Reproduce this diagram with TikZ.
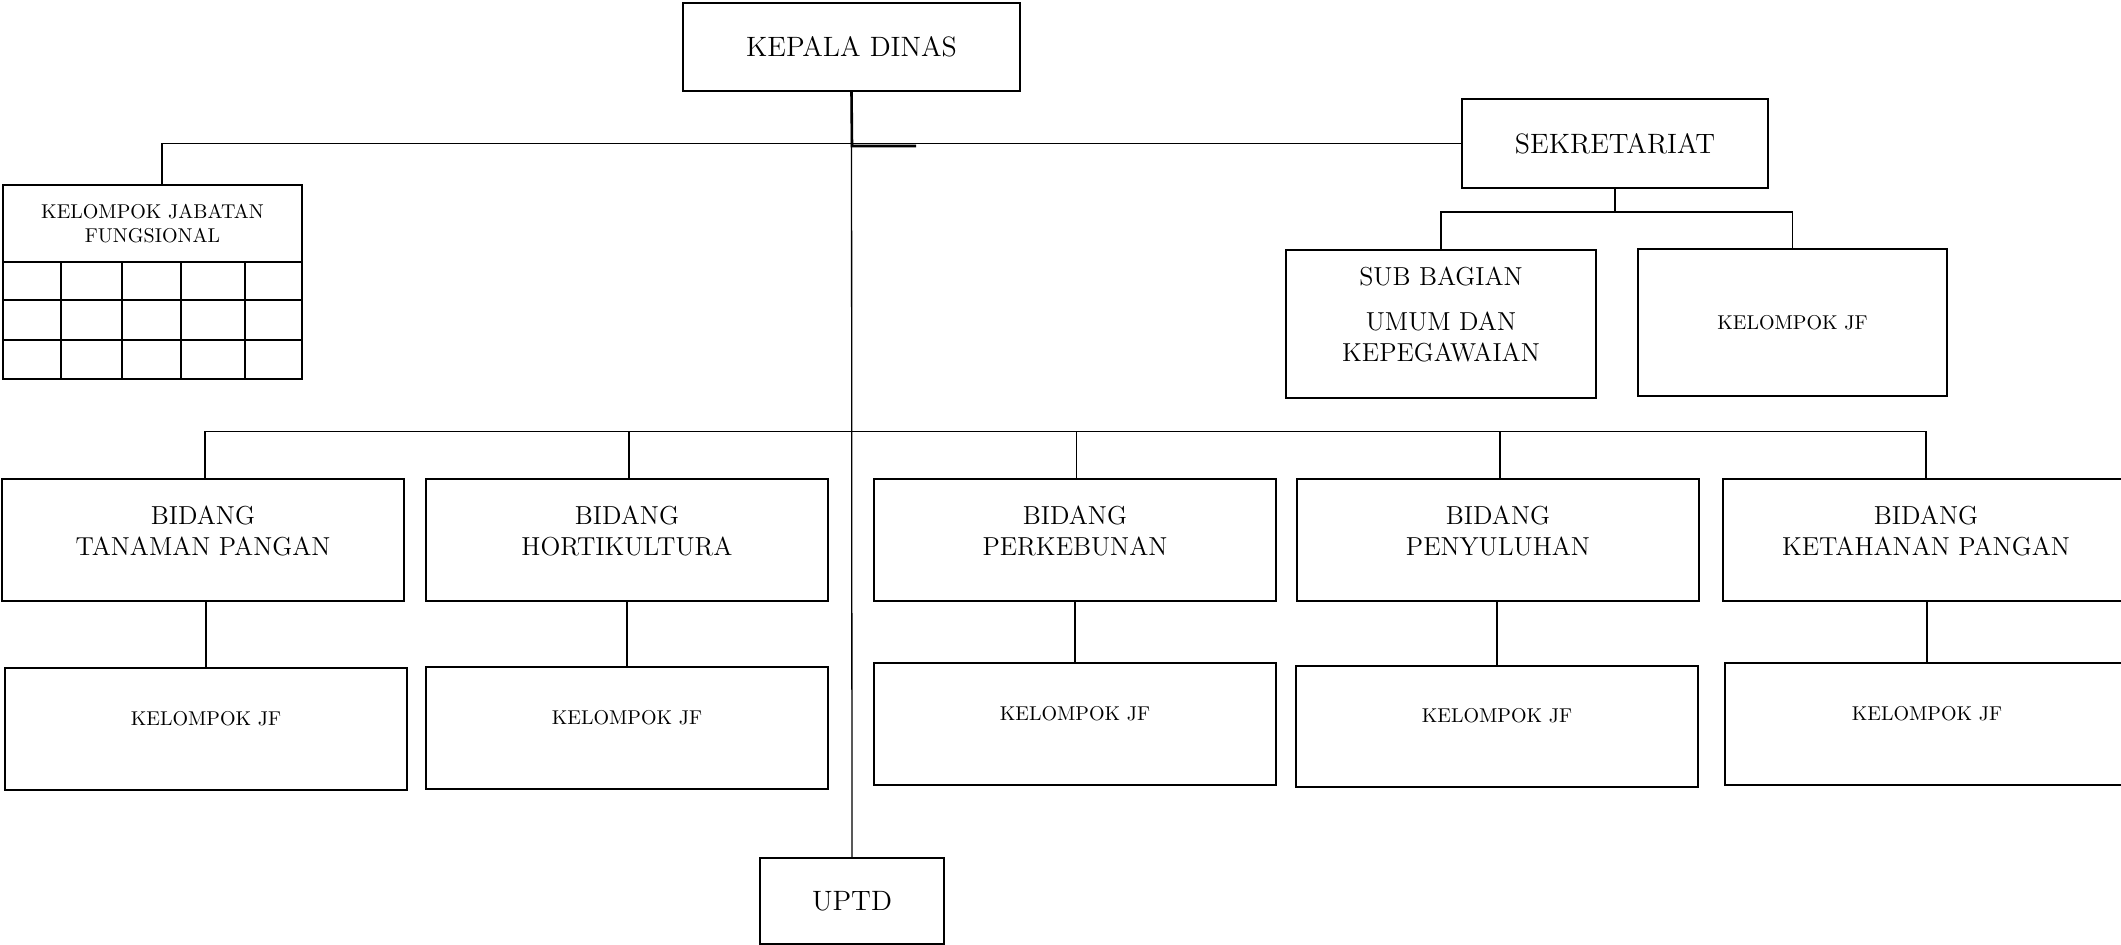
\documentclass[tikz,border=0pt]{standalone}
\begin{document}
\begin{tikzpicture}[x=0.5pt,y=-0.5pt,
  box/.style={draw,line width=1pt,rectangle,inner sep=0pt,align=center},
  conn/.style={line width=0.65pt},
  big/.style={font=\fontsize{14pt}{16.8pt}\selectfont},
  mid/.style={font=\fontsize{13pt}{15.6pt}\selectfont},
  small/.style={font=\fontsize{10pt}{12pt}\selectfont},
  bid/.style={box,mid,minimum width=201pt,minimum height=61pt,text depth=9pt},
  jf/.style={box,small,minimum width=201pt,minimum height=61pt,text depth=11pt}]
\useasboundingbox (0,0) rectangle (2121,945);
\clip (0,0) rectangle (2121,945);
\fill[white] (0,0) rectangle (2121,945);

% top level
\node[box,big,minimum width=168.5pt,minimum height=44pt] (kd) at (851.5,47) {KEPALA DINAS};
\node[box,big,minimum width=153pt,minimum height=44.5pt] (sek) at (1615,143.5) {SEKRETARIAT};
\node[box,small,minimum width=149.5pt,minimum height=38.5pt] (kjf) at (152.5,223.5) {KELOMPOK JABATAN\\FUNGSIONAL};

% grid under kelompok jabatan fungsional
\draw[line width=1pt] (3,262) rectangle (302,379);
\draw[line width=0.6pt] (3,300) -- (302,300) (3,340) -- (302,340)
  (61,262) -- (61,379) (122,262) -- (122,379) (181,262) -- (181,379) (245,262) -- (245,379);

% sekretariat children
\node[box,mid,minimum width=155pt,minimum height=74pt,text depth=10pt] (sub) at (1441,324) {SUB BAGIAN\\[7pt]UMUM DAN\\KEPEGAWAIAN};
\node[box,small,minimum width=154.5pt,minimum height=73.5pt] (kjfs) at (1792.5,322.5) {KELOMPOK JF};

% bidang
\node[bid] (b1) at (203,540) {BIDANG\\TANAMAN PANGAN};
\node[bid] (b2) at (627,540) {BIDANG\\HORTIKULTURA};
\node[bid] (b3) at (1075,540) {BIDANG\\PERKEBUNAN};
\node[bid] (b4) at (1498,540) {BIDANG\\PENYULUHAN};
\node[bid,minimum width=203pt] (b5) at (1926,540) {BIDANG\\KETAHANAN PANGAN};

% kelompok jf
\node[jf] (j1) at (206,729) {KELOMPOK JF};
\node[jf] (j2) at (627,728) {KELOMPOK JF};
\node[jf] (j3) at (1075,724) {KELOMPOK JF};
\node[jf,minimum height=60.5pt] (j4) at (1497,726.5) {KELOMPOK JF};
\node[jf,minimum width=202pt] (j5) at (1927,724) {KELOMPOK JF};

% uptd
\node[box,big,minimum width=92pt,minimum height=43pt] (uptd) at (852,901) {UPTD};

% coordinates
\coordinate (jn) at (852,146);
\coordinate (sb) at (1615,212);
\coordinate (bus) at (852,431.5);

% connectors
\draw[conn] (kd.south) -- (uptd.north);
\draw[line width=1.3pt] (kd.south) -- (jn) -- ++(64,0);
\draw[conn] ([xshift=4.75pt]kjf.north) |- (sek.west);
\draw[conn] (sek.south) -- (sb);
\draw[conn] (sub.north) |- (sb) -| (kjfs.north);
\draw[conn] ([xshift=1pt]b1.north) |- (bus) -| (b5.north);
\draw[conn] ([xshift=1pt]b2.north) -- ([xshift=1pt]b2.north |- bus);
\draw[conn] ([xshift=0.7pt]b3.north) -- ([xshift=0.7pt]b3.north |- bus);
\draw[conn] ([xshift=1pt]b4.north) -- ([xshift=1pt]b4.north |- bus);
\draw[conn] (j1.north) -- (j1.north |- b1.south);
\draw[conn] (j2.north) -- (j2.north |- b2.south);
\draw[conn] (j3.north) -- (j3.north |- b3.south);
\draw[conn] (j4.north) -- (j4.north |- b4.south);
\draw[conn] (j5.north) -- (j5.north |- b5.south);
\end{tikzpicture}
\end{document}
